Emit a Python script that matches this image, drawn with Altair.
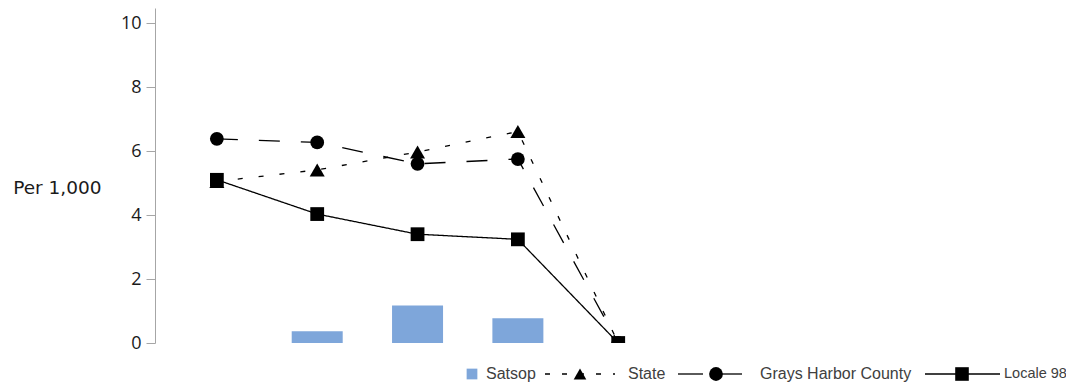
import altair as alt
import pandas as pd

# ---- data ----
categories = [1, 2, 3, 4, 5]
satsop_x = [2, 3, 4]
satsop = [0.37, 1.17, 0.77]
state = [5.05, 5.41, 5.97, 6.61, 0.0]
grays_harbor = [6.38, 6.27, 5.60, 5.75, 0.0]
locale = [5.10, 4.03, 3.40, 3.24, 0.0]
y_ticks = [0, 2, 4, 6, 8, 10]
legend_labels = ["Satsop", "State", "Grays Harbor County", "Locale 98"]

W, H = 911, 335
X_DOMAIN = [0.4332, 0.4332 + W / 101.45]
Y_DOMAIN = [0, 10.47]

xs = alt.Scale(domain=X_DOMAIN, nice=False, zero=False)
ys = alt.Scale(domain=Y_DOMAIN, nice=False, zero=False)
X = alt.X("x:Q", scale=xs, axis=None)

bars_df = pd.DataFrame({"x": satsop_x, "v": satsop})
state_df = pd.DataFrame({"x": categories, "v": state})
grays_df = pd.DataFrame({"x": categories, "v": grays_harbor})
locale_df = pd.DataFrame({"x": categories, "v": locale})

yaxis = alt.Axis(
    values=y_ticks, grid=False, domainColor="#A6A6A6", tickColor="#A6A6A6",
    tickSize=9, labelPadding=5, labelFont="Open Sans", labelFontSize=18,
    labelColor="#1a1a1a", title="Per 1,000", titleAngle=0, titleX=-54,
    titleY=179, titleAlign="right", titleBaseline="middle",
    titleFont="DejaVu Sans", titleFontSize=18.5, titleFontWeight="normal",
    titleColor="#1a1a1a",
)

bars = alt.Chart(bars_df).mark_bar(size=51, color="#7EA6DA").encode(
    x=X, y=alt.Y("v:Q", scale=ys, axis=yaxis)
)

def series(df, dash, shape, size):
    line = alt.Chart(df).mark_line(
        color="black", strokeWidth=1.3, strokeDash=dash, clip=True
    ).encode(x=X, y=alt.Y("v:Q", scale=ys))
    pts = alt.Chart(df).mark_point(
        shape=shape, filled=True, size=size, color="black", opacity=1, clip=True
    ).encode(x=X, y=alt.Y("v:Q", scale=ys))
    return line, pts

s_line, s_pts = series(state_df, [5, 16], "triangle-up", 225)
g_line, g_pts = series(grays_df, [21, 21], "circle", 190)
l_line, l_pts = series(locale_df, [1, 0], "square", 190)

# ---- legend (layout only) ----
one = pd.DataFrame({"k": [0]})
LY = 366
def ltext(label, x, size=16):
    return alt.Chart(pd.DataFrame({"label": [label]})).mark_text(
        align="left", baseline="middle", font="Liberation Sans", fontSize=size,
        color="#404040"
    ).encode(x=alt.value(x), y=alt.value(LY), text="label:N")

def lrule(x1, x2, dash=None):
    kw = dict(color="black", strokeWidth=1.3)
    if dash:
        kw["strokeDash"] = dash
    return alt.Chart(one).mark_rule(**kw).encode(
        x=alt.value(x1), x2=alt.value(x2), y=alt.value(LY)
    )

def lsym(x, shape, size, color="black"):
    return alt.Chart(one).mark_point(
        shape=shape, filled=True, size=size, color=color, opacity=1
    ).encode(x=alt.value(x), y=alt.value(LY))

legend = [
    lsym(317, "square", 115, "#7EA6DA"), ltext(legend_labels[0], 331),
    lrule(390, 460, [5, 12]), lsym(425, "triangle-up", 160), ltext(legend_labels[1], 473),
    lrule(523, 548), lrule(561, 587), lsym(561, "circle", 190), ltext(legend_labels[2], 605),
    lrule(770, 845), lsym(807, "square", 185), ltext(legend_labels[3], 849, 14.5),
]

chart = alt.layer(
    bars, s_line, s_pts, g_line, g_pts, l_line, l_pts, *legend
).properties(
    width=W, height=H,
    autosize=alt.AutoSizeParams(type="none"),
    padding={"left": 147, "top": 0, "right": 0, "bottom": 43},
).configure_view(stroke=None)

chart.save("out.html", embed_options={"renderer": "svg", "actions": False})
